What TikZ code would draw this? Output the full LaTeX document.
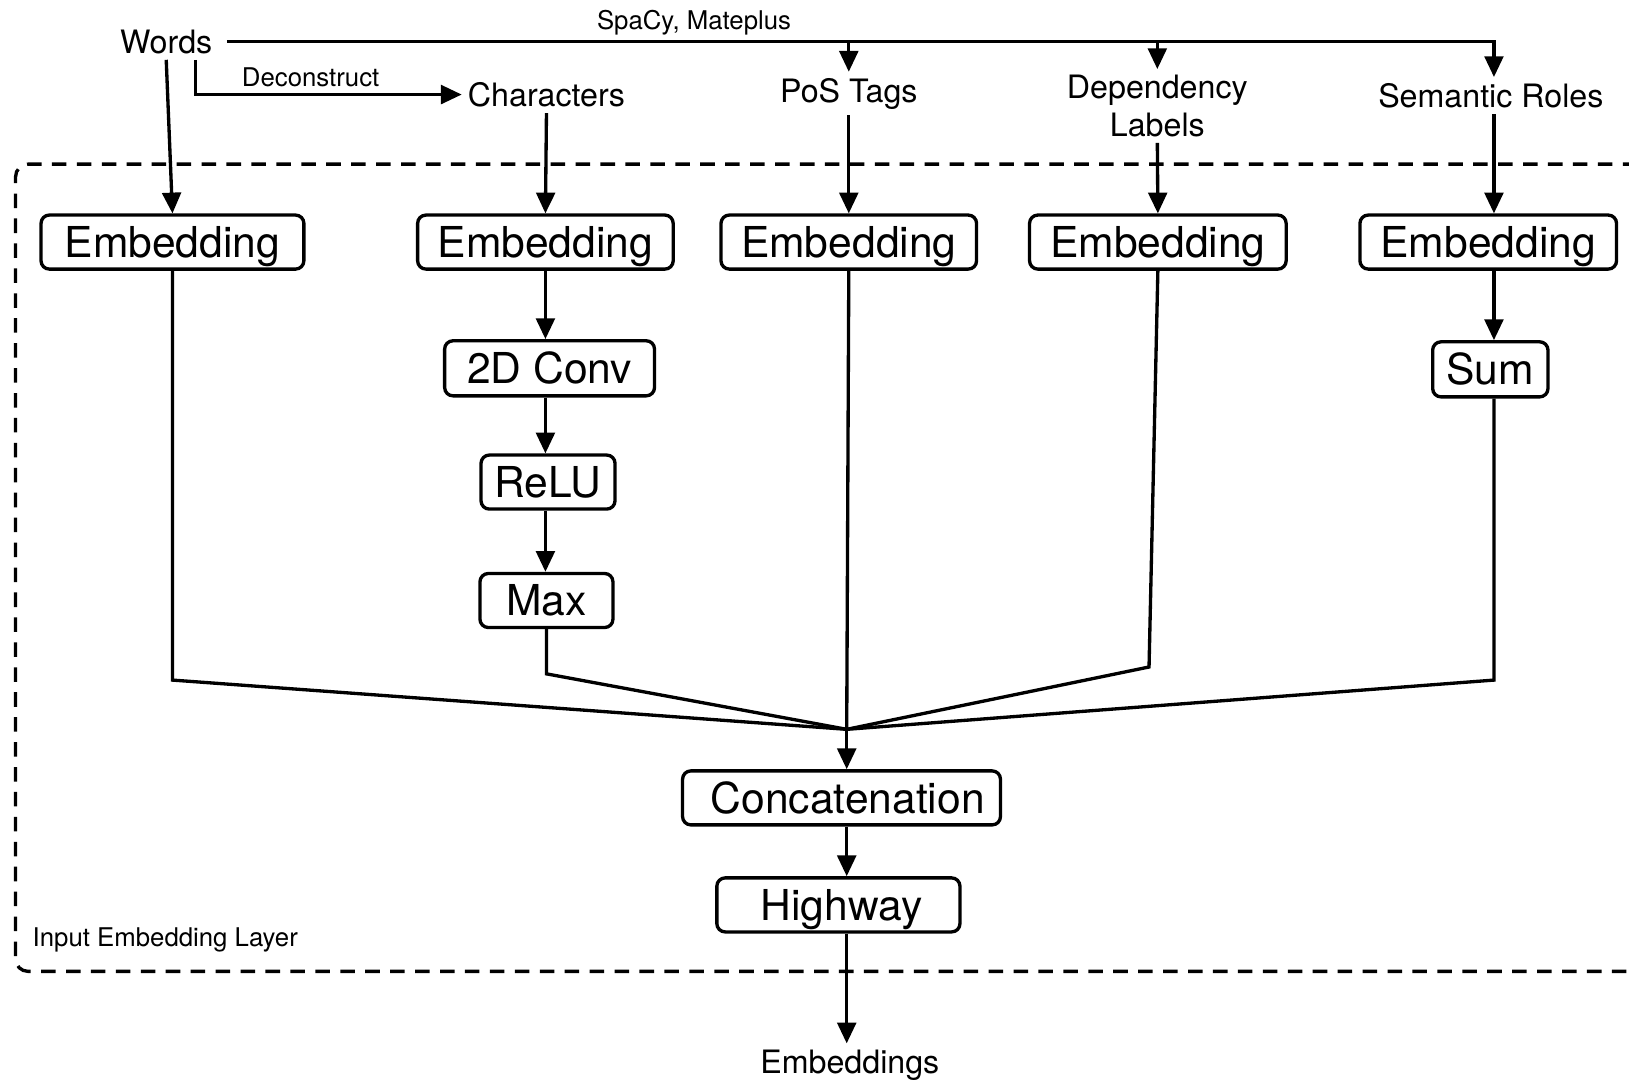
\documentclass[tikz,border=0pt]{standalone}
\usepackage{fontspec}
\setmainfont{TeX Gyre Heros}
\usetikzlibrary{arrows.meta}
\begin{document}
\begin{tikzpicture}[x=0.5pt,y=-0.5pt,
  box/.style={draw,line width=1.6pt,rounded corners=4pt,inner sep=0pt,text height=16pt,text depth=1.2pt,font=\fontsize{20.5}{24}\selectfont},
  lab/.style={inner sep=0pt,outer sep=3pt,font=\fontsize{15.5}{18}\selectfont},
  small/.style={inner sep=0pt,font=\fontsize{12.4}{14}\selectfont},
  arr/.style={line width=1.6pt,-{Triangle[length=10pt,width=9pt]}},
  ln/.style={line width=1.6pt,line join=miter},
  layer/.style={line width=1.6pt,dash pattern=on 7pt off 5pt,rounded corners=6pt}]
\clip (0,0) rectangle (1568,1041);
\fill[white] (0,0) rectangle (1568,1041);

% dashed layer
\draw[layer] (1600,158) -- (15,158) -- (15,935) -- (1600,935);
\node[small,anchor=west] (layerlab) at (31,905) {Input Embedding Layer};

% inputs
\node[lab] (words) at (160,40) {Words};
\node[small] (spacy) at (668,22) {SpaCy, Mateplus};
\node[small] (decon) at (299,74) {Deconstruct};
\node[lab] (chars) at (526,91) {Characters};
\node[lab] (pos) at (817,90) {PoS Tags};
\node[lab,align=center] (dep) at (1114,102) {Dependency\\Labels};
\node[lab] (sem) at (1435,92) {Semantic Roles};
\coordinate (c5) at (1438,0);

% boxes
\node[box,minimum width=126.5pt,minimum height=26pt] (e1) at (166,233) {Embedding};
\node[box,minimum width=123pt,minimum height=26pt] (e2) at (525,233) {Embedding};
\node[box,minimum width=123pt,minimum height=26pt] (e3) at (817,233) {Embedding};
\node[box,minimum width=123.5pt,minimum height=26pt] (e4) at (1114.5,233) {Embedding};
\node[box,minimum width=123.5pt,minimum height=26pt] (e5) at (1432.5,233) {Embedding};
\node[box,minimum width=101pt,minimum height=26.5pt] (conv) at (529,354.5) {2D Conv};
\node[box,minimum width=64.5pt,minimum height=26pt] (relu) at (527.5,464) {ReLU};
\node[box,minimum width=64pt,minimum height=26pt] (max) at (526,578) {Max};
\node[box,minimum width=55.5pt,minimum height=26.5pt] (sum) at (1434.5,355.5) {Sum};
\node[box,minimum width=153pt,minimum height=26pt] (conc) at (810,768) {\hspace*{6pt}Concatenation};
\node[box,minimum width=117pt,minimum height=26pt] (hw) at (807,871) {\hspace*{3pt}Highway};
\node[lab] (emb) at (818,1025) {Embeddings};

% top connectors
\draw[arr] (words.south) -- (e1.north);
\draw[arr] ([xshift=-11pt]words.south east) |- (chars.west);
\draw[arr] ([xshift=4pt]words.east) -| (sem.north -| c5);
\draw[arr] (words.east -| pos.north) -- (pos.north);
\draw[arr] (words.east -| dep.north) -- (dep.north);

\draw[arr] (chars.south) -- (e2.north);
\draw[arr] (pos.south) -- (e3.north);
\draw[arr] (dep.south) -- (e4.north);
\draw[arr] (sem.south -| c5) -- (e5.north -| c5);

\draw[arr] (e2.south) -- (e2.south |- conv.north);
\draw[arr] (e2.south |- conv.south) -- (e2.south |- relu.north);
\draw[arr] (e2.south |- relu.south) -- (e2.south |- max.north);
\draw[arr] (e5.south -| c5) -- (sum.north -| c5);

% merge
\coordinate (m) at (815,702);
\coordinate (k4) at (1106,642);
\draw[ln] (e1.south) -- ++(0,394) -- (m);
\draw[ln] (max.south) -- ++(0,43) -- (m);
\draw[ln] (e3.south) -- (m);
\draw[ln] (e4.south) -- (k4) -- (m);
\draw[ln] (sum.south -| c5) -- ++(0,271) -- (m);

\draw[arr] (m) -- (m |- conc.north);
\draw[arr] (m |- conc.south) -- (m |- hw.north);
\draw[arr] (m |- hw.south) -- (m |- emb.north);
\end{tikzpicture}
\end{document}
